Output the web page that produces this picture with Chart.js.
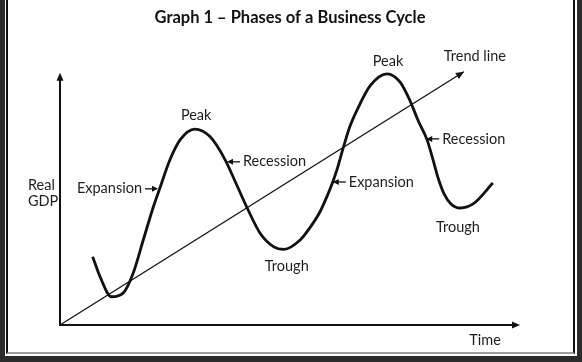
<!DOCTYPE html>
<html>
<head>
<meta charset="utf-8">
<title>Phases of a Business Cycle</title>
<script src="https://cdn.jsdelivr.net/npm/chart.js@4.4.1/dist/chart.umd.min.js"></script>
<style>
  html, body { margin: 0; padding: 0; background: #2b2b2b; }
  #sheet { position: absolute; left: 5px; top: 0; width: 572px; height: 356px; background: #fff; }
  #frame { position: absolute; left: 6px; top: 0; width: 565px; height: 352px;
           border-left: 2px solid #111; border-right: 2px solid #111; border-bottom: 2px solid #9c9c9c; }
  #chart { position: absolute; left: 0; top: 0; }
</style>
</head>
<body>
<div id="sheet"></div>
<div id="frame"></div>
<canvas id="chart" width="582" height="362"></canvas>
<script>
// time (x) and real GDP (y) of the business cycle curve
const cycleTime = [7.1, 8.7, 11.2, 13.8, 15.9, 18.1, 20.3, 21.7, 23.9, 26.1, 29.3, 32.6, 35.9, 38.4, 40.9,
    43.5, 46.4, 48.7, 52.2, 54.3, 56.5, 58.0, 59.3, 60.4, 61.5, 63.0, 64.6, 67.4, 71.1, 73.9,
    76.1, 77.8, 79.8, 81.1, 82.2, 83.5, 85.0, 87.0, 89.8, 94.1];
const cycleGdp = [27.1, 19.2, 11.2, 12.8, 20.5, 33.7, 46.9, 54.2, 65.5, 73.4, 77.7, 74.7, 65.5, 55.6, 45.6,
    36.4, 31.1, 30.0, 33.7, 38.5, 44.8, 50.8, 56.7, 62.7, 69.8, 78.6, 85.3, 94.8, 99.6, 96.4,
    88.9, 81.3, 73.4, 65.5, 58.3, 52.0, 48.0, 46.4, 48.0, 56.3];

// trend line, start and end
const trendTime = [0, 87.8];
const trendGdp = [0, 100.4];

// labels on the graph
const pointLabels = [
    { text: 'Peak', x: 29.6, y: 83.3 },
    { text: 'Trough', x: 49.3, y: 23.4 },
    { text: 'Peak', x: 71.3, y: 104.4 },
    { text: 'Trend line', x: 90.2, y: 106.7 },
    { text: 'Trough', x: 86.5, y: 38.9 },
    { text: 'Time', x: 92.4, y: -6.0 }
];
// phase labels with a small arrow pointing at the curve (dir 1 = arrow points right)
const phaseLabels = [
    { text: 'Expansion', x: 21.3, y: 54.0, dir: 1 },
    { text: 'Recession', x: 36.3, y: 64.7, dir: -1 },
    { text: 'Expansion', x: 59.3, y: 56.7, dir: -1 },
    { text: 'Recession', x: 79.6, y: 73.8, dir: -1 }
];
const axisLabelLines = ['Real', 'GDP'];
const axisLabelPos = { x: -6.96, y: 55.2 };

const ink = '#111';
const textColor = '#1e1e1e';
const labelFont = '14.5px Lato, "Open Sans", sans-serif';

function toPoints(xs, ys) {
    return xs.map((v, i) => ({ x: v, y: ys[i] }));
}

function arrowHead(ctx, tx, ty, angle, len, half) {
    ctx.beginPath();
    ctx.moveTo(tx, ty);
    ctx.lineTo(tx - len * Math.cos(angle) + half * Math.sin(angle), ty - len * Math.sin(angle) - half * Math.cos(angle));
    ctx.lineTo(tx - len * Math.cos(angle) - half * Math.sin(angle), ty - len * Math.sin(angle) + half * Math.cos(angle));
    ctx.closePath();
    ctx.fill();
}

const axesPlugin = {
    id: 'cycleAxes',
    beforeDatasetsDraw(chart) {
        const { ctx, chartArea } = chart;
        ctx.save();
        ctx.strokeStyle = ink;
        ctx.fillStyle = ink;
        ctx.lineWidth = 2;
        ctx.beginPath();
        ctx.moveTo(chartArea.left, chartArea.top + 4);
        ctx.lineTo(chartArea.left, chartArea.bottom);
        ctx.lineTo(chartArea.right - 4, chartArea.bottom);
        ctx.stroke();
        arrowHead(ctx, chartArea.left, chartArea.top, -Math.PI / 2, 8, 3.5);
        arrowHead(ctx, chartArea.right, chartArea.bottom, 0, 8, 3.5);
        ctx.restore();
    },
    afterDatasetsDraw(chart) {
        const { ctx } = chart;
        const x = chart.scales.x;
        const y = chart.scales.y;
        ctx.save();
        ctx.fillStyle = ink;

        // arrow at the end of the trend line
        const tm = chart.getDatasetMeta(1).data;
        const a = tm[tm.length - 2], b = tm[tm.length - 1];
        arrowHead(ctx, b.x, b.y, Math.atan2(b.y - a.y, b.x - a.x), 8, 3.5);

        ctx.fillStyle = textColor;
        ctx.font = labelFont;
        ctx.textBaseline = 'middle';
        ctx.textAlign = 'center';
        pointLabels.forEach(l => ctx.fillText(l.text, x.getPixelForValue(l.x), y.getPixelForValue(l.y)));

        phaseLabels.forEach(l => {
            const px = x.getPixelForValue(l.x);
            const py = y.getPixelForValue(l.y);
            const tail = px - l.dir * 13;
            ctx.strokeStyle = ink;
            ctx.fillStyle = ink;
            ctx.lineWidth = 1.3;
            ctx.beginPath();
            ctx.moveTo(tail, py);
            ctx.lineTo(px - l.dir * 5, py);
            ctx.stroke();
            arrowHead(ctx, px, py, l.dir > 0 ? 0 : Math.PI, 6, 3);
            ctx.fillStyle = textColor;
            ctx.textAlign = l.dir > 0 ? 'right' : 'left';
            ctx.fillText(l.text, tail - l.dir * 3, py);
        });

        ctx.textAlign = 'left';
        const ax = x.getPixelForValue(axisLabelPos.x);
        const ay = y.getPixelForValue(axisLabelPos.y);
        axisLabelLines.forEach((t, i) => ctx.fillText(t, ax, ay + i * 16));
        ctx.restore();
    }
};

new Chart(document.getElementById('chart'), {
    type: 'scatter',
    data: {
        datasets: [{
            label: 'Real GDP',
            data: toPoints(cycleTime, cycleGdp),
            showLine: true,
            borderColor: ink,
            borderWidth: 2.8,
            pointRadius: 0,
            cubicInterpolationMode: 'monotone',
            clip: false
        }, {
            label: 'Trend line',
            data: toPoints(trendTime, trendGdp),
            showLine: true,
            borderColor: ink,
            borderWidth: 1.3,
            pointRadius: 0,
            clip: false
        }]
    },
    options: {
        responsive: false,
        animation: false,
        events: [],
        layout: { padding: { left: 60, right: 62, top: 0, bottom: 37 } },
        scales: {
            x: { type: 'linear', min: 0, max: 100, display: false },
            y: { type: 'linear', min: 0, max: 100, display: false }
        },
        plugins: {
            legend: { display: false },
            tooltip: { enabled: false },
            title: {
                display: true,
                text: 'Graph 1 \u2013 Phases of a Business Cycle',
                color: ink,
                font: { family: 'Lato, "Open Sans", sans-serif', size: 16.5, weight: 'bold', lineHeight: 1.2 },
                padding: { top: 8, bottom: 45 }
            }
        }
    },
    plugins: [axesPlugin]
});
</script>
</body>
</html>
